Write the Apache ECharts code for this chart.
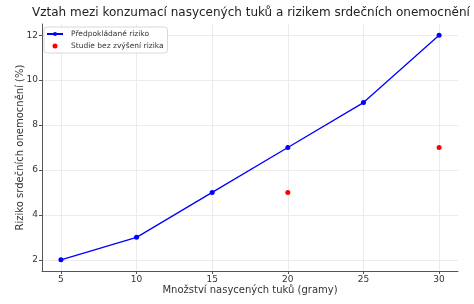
<!DOCTYPE html>
<html><head><meta charset="utf-8">
<script src="https://cdn.jsdelivr.net/npm/echarts@6/dist/echarts.min.js"></script>
<style>html,body{margin:0;padding:0;background:#fff}#c{width:474px;height:304px}</style>
</head><body><div id="c"></div>
<script>
const xValues = [5, 10, 15, 20, 25, 30];
const riskValues = [2, 3, 5, 7, 9, 12];
const studyX = [20, 30];
const studyY = [5, 7];
const xTicks = [5, 10, 15, 20, 25, 30];
const yTicks = [2, 4, 6, 8, 10, 12];

const font = 'DejaVu Sans';
const chart = echarts.init(document.getElementById('c'));
chart.setOption({
  animation: false,
  backgroundColor: '#fff',
  title: {
    text: 'Vztah mezi konzumací nasycených tuků a rizikem srdečních onemocnění',
    left: 32, top: 7, padding: 0,
    textStyle: { fontFamily: font, fontSize: 12, fontWeight: 'normal', color: '#222' }
  },
  grid: { left: 42, right: 16, top: 24, bottom: 33 },
  legend: {
    orient: 'vertical', left: 44, top: 27,
    backgroundColor: 'rgba(255,255,255,0.85)', borderColor: '#d8d8d8', borderWidth: 1, borderRadius: 3,
    padding: [3, 4, 3, 2], itemGap: 4, itemWidth: 16, itemHeight: 5,
    textStyle: { fontFamily: font, fontSize: 7.5, color: '#333', padding: [0, 0, 0, 3] },
    data: [{ name: 'Předpokládané riziko' }, { name: 'Studie bez zvýšení rizika', icon: 'circle' }]
  },
  xAxis: {
    type: 'value', min: 3.75, max: 31.25,
    name: 'Množství nasycených tuků (gramy)', nameLocation: 'middle', nameGap: 14,
    nameMoveOverlap: false,
    nameTextStyle: { fontFamily: font, fontSize: 10, color: '#333', verticalAlign: 'top' },
    axisLine: { lineStyle: { color: '#555', width: 1 } },
    axisTick: { show: true, customValues: xTicks, length: 3, lineStyle: { color: '#555' } },
    axisLabel: { customValues: xTicks, fontFamily: font, fontSize: 9, color: '#333', margin: 4 },
    splitLine: { show: true, lineStyle: { color: '#ebebeb', width: 1 } }
  },
  yAxis: {
    type: 'value', min: 1.5, max: 12.5,
    name: 'Riziko srdečních onemocnění (%)', nameLocation: 'middle', nameGap: 17,
    nameMoveOverlap: false,
    nameTextStyle: { fontFamily: font, fontSize: 10, color: '#333' },
    axisLine: { show: true, lineStyle: { color: '#555', width: 1 } },
    axisTick: { show: true, customValues: yTicks, length: 3, lineStyle: { color: '#555' } },
    axisLabel: { customValues: yTicks, fontFamily: font, fontSize: 9, color: '#333', margin: 4 },
    splitLine: { show: true, lineStyle: { color: '#ebebeb', width: 1 } }
  },
  series: [
    {
      name: 'Předpokládané riziko', type: 'line',
      data: xValues.map((x, i) => [x, riskValues[i]]),
      symbol: 'circle', symbolSize: 5,
      lineStyle: { color: '#0000ff', width: 1.3 },
      itemStyle: { color: '#0000ff' }
    },
    {
      name: 'Studie bez zvýšení rizika', type: 'scatter',
      data: studyX.map((x, i) => [x, studyY[i]]),
      symbol: 'circle', symbolSize: 5,
      itemStyle: { color: '#ff0000', opacity: 1 }
    }
  ]
});
</script></body></html>
